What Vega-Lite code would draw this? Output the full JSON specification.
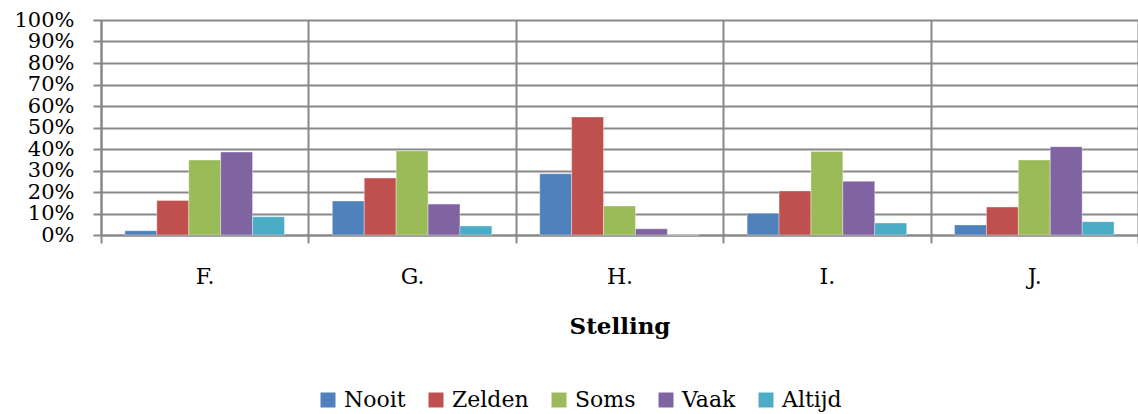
{
  "$schema": "https://vega.github.io/schema/vega-lite/v6.json",
  "autosize": {"type": "none"},
  "padding": {"left": 101, "top": 20, "right": 0, "bottom": 179},
  "width": 1037,
  "height": 215,
  "background": "white",
  "config": {
    "font": "DejaVu Serif",
    "view": {"stroke": null}
  },
  "data": {
    "values": [
      {"stelling": "F.", "antwoord": "Nooit", "pct": 0.02},
      {"stelling": "F.", "antwoord": "Zelden", "pct": 0.161},
      {"stelling": "F.", "antwoord": "Soms", "pct": 0.349},
      {"stelling": "F.", "antwoord": "Vaak", "pct": 0.386},
      {"stelling": "F.", "antwoord": "Altijd", "pct": 0.085},
      {"stelling": "G.", "antwoord": "Nooit", "pct": 0.158},
      {"stelling": "G.", "antwoord": "Zelden", "pct": 0.265},
      {"stelling": "G.", "antwoord": "Soms", "pct": 0.391},
      {"stelling": "G.", "antwoord": "Vaak", "pct": 0.144},
      {"stelling": "G.", "antwoord": "Altijd", "pct": 0.042},
      {"stelling": "H.", "antwoord": "Nooit", "pct": 0.285},
      {"stelling": "H.", "antwoord": "Zelden", "pct": 0.549},
      {"stelling": "H.", "antwoord": "Soms", "pct": 0.135},
      {"stelling": "H.", "antwoord": "Vaak", "pct": 0.029},
      {"stelling": "H.", "antwoord": "Altijd", "pct": 0},
      {"stelling": "I.", "antwoord": "Nooit", "pct": 0.101},
      {"stelling": "I.", "antwoord": "Zelden", "pct": 0.205},
      {"stelling": "I.", "antwoord": "Soms", "pct": 0.388},
      {"stelling": "I.", "antwoord": "Vaak", "pct": 0.25},
      {"stelling": "I.", "antwoord": "Altijd", "pct": 0.056},
      {"stelling": "J.", "antwoord": "Nooit", "pct": 0.047},
      {"stelling": "J.", "antwoord": "Zelden", "pct": 0.13},
      {"stelling": "J.", "antwoord": "Soms", "pct": 0.349},
      {"stelling": "J.", "antwoord": "Vaak", "pct": 0.411},
      {"stelling": "J.", "antwoord": "Altijd", "pct": 0.062}
    ]
  },
  "mark": {"type": "bar", "stroke": "white", "strokeWidth": 0.6, "strokeOpacity": 0.6},
  "encoding": {
    "x": {
      "field": "stelling",
      "type": "nominal",
      "sort": ["F.", "G.", "H.", "I.", "J."],
      "scale": {"paddingInner": 0, "paddingOuter": 0},
      "axis": {
        "title": "Stelling",
        "titleFont": "DejaVu Serif",
        "titleFontSize": 23,
        "titleFontWeight": "bold",
        "titleColor": "black",
        "titlePadding": 28,
        "labelAngle": 0,
        "labelFont": "DejaVu Serif",
        "labelFontSize": 22,
        "labelColor": "black",
        "labelPadding": 23,
        "labelBaseline": "top",
        "tickBand": "extent",
        "grid": true,
        "gridColor": "#888888",
        "gridWidth": 2,
        "gridOpacity": 1,
        "ticks": true,
        "tickSize": 8,
        "tickColor": "#888888",
        "tickWidth": 2,
        "domain": true,
        "domainColor": "#888888",
        "domainWidth": 2
      }
    },
    "xOffset": {
      "field": "antwoord",
      "type": "nominal",
      "sort": ["Nooit", "Zelden", "Soms", "Vaak", "Altijd"],
      "scale": {"paddingInner": 0, "paddingOuter": 0.75}
    },
    "y": {
      "field": "pct",
      "type": "quantitative",
      "scale": {"domain": [0, 1], "nice": false},
      "axis": {
        "title": null,
        "values": [0, 0.1, 0.2, 0.3, 0.4, 0.5, 0.6, 0.7, 0.8, 0.9, 1],
        "format": ".0%",
        "labelOverlap": false,
        "labelFont": "DejaVu Serif",
        "labelFontSize": 21,
        "labelColor": "black",
        "labelPadding": 19,
        "grid": true,
        "gridColor": "#888888",
        "gridWidth": 2,
        "gridOpacity": 1,
        "ticks": true,
        "tickSize": 8,
        "tickColor": "#888888",
        "tickWidth": 2,
        "domain": true,
        "domainColor": "#888888",
        "domainWidth": 2
      }
    },
    "color": {
      "field": "antwoord",
      "type": "nominal",
      "sort": ["Nooit", "Zelden", "Soms", "Vaak", "Altijd"],
      "scale": {
        "domain": ["Nooit", "Zelden", "Soms", "Vaak", "Altijd"],
        "range": ["#4F81BD", "#C0504D", "#9BBB59", "#8064A2", "#4BACC6"]
      },
      "legend": {
        "title": null,
        "orient": "none",
        "direction": "horizontal",
        "legendX": 216,
        "legendY": 369,
        "padding": 0,
        "symbolType": "square",
        "symbolSize": 225,
        "symbolStrokeWidth": 0,
        "symbolOpacity": 1,
        "labelFont": "DejaVu Serif",
        "labelFontSize": 22,
        "labelColor": "black",
        "labelOffset": 5,
        "columnPadding": 19,
        "labelLimit": 300
      }
    }
  }
}
